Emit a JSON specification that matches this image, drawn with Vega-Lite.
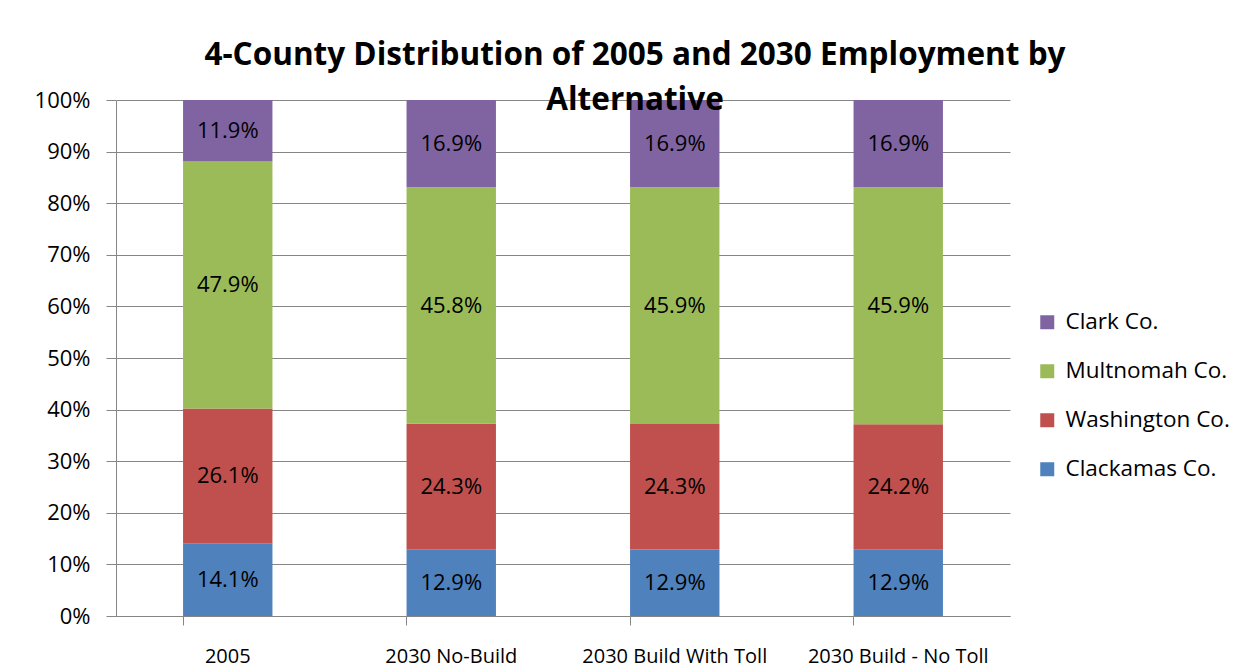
{
  "$schema": "https://vega.github.io/schema/vega-lite/v6.json",
  "autosize": "none",
  "width": 894,
  "height": 516,
  "padding": {"left": 116, "top": 100, "right": 238, "bottom": 51},
  "background": "white",
  "title": {
    "text": ["4-County Distribution of 2005 and 2030 Employment by", "Alternative"],
    "font": "Open Sans",
    "fontSize": 31.5,
    "fontWeight": "bold",
    "color": "black",
    "anchor": "middle",
    "dx": 72,
    "lineHeight": 45,
    "offset": -27
  },
  "data": {
    "values": [
      {"scenario": "2005", "county": "Clackamas Co.", "k": 1, "share": 0.141},
      {"scenario": "2005", "county": "Washington Co.", "k": 2, "share": 0.261},
      {"scenario": "2005", "county": "Multnomah Co.", "k": 3, "share": 0.479},
      {"scenario": "2005", "county": "Clark Co.", "k": 4, "share": 0.119},
      {"scenario": "2030 No-Build", "county": "Clackamas Co.", "k": 1, "share": 0.129},
      {"scenario": "2030 No-Build", "county": "Washington Co.", "k": 2, "share": 0.243},
      {"scenario": "2030 No-Build", "county": "Multnomah Co.", "k": 3, "share": 0.458},
      {"scenario": "2030 No-Build", "county": "Clark Co.", "k": 4, "share": 0.169},
      {"scenario": "2030 Build With Toll", "county": "Clackamas Co.", "k": 1, "share": 0.129},
      {"scenario": "2030 Build With Toll", "county": "Washington Co.", "k": 2, "share": 0.243},
      {"scenario": "2030 Build With Toll", "county": "Multnomah Co.", "k": 3, "share": 0.459},
      {"scenario": "2030 Build With Toll", "county": "Clark Co.", "k": 4, "share": 0.169},
      {"scenario": "2030 Build - No Toll", "county": "Clackamas Co.", "k": 1, "share": 0.129},
      {"scenario": "2030 Build - No Toll", "county": "Washington Co.", "k": 2, "share": 0.242},
      {"scenario": "2030 Build - No Toll", "county": "Multnomah Co.", "k": 3, "share": 0.459},
      {"scenario": "2030 Build - No Toll", "county": "Clark Co.", "k": 4, "share": 0.169}
    ]
  },
  "encoding": {
    "x": {
      "field": "scenario",
      "type": "nominal",
      "sort": null,
      "scale": {"paddingInner": 0.6, "paddingOuter": 0.3},
      "axis": {
        "title": null,
        "labelAngle": 0,
        "labelFont": "Open Sans",
        "labelFontSize": 20,
        "labelColor": "black",
        "labelPadding": 21,
        "labelLimit": 0,
        "labelOverlap": false,
        "bandPosition": 0,
        "tickColor": "#868686",
        "tickSize": 9,
        "domainColor": "#868686",
        "grid": false
      }
    },
    "y": {
      "field": "share",
      "type": "quantitative",
      "stack": "normalize",
      "scale": {"domain": [0, 1]},
      "axis": {
        "title": null,
        "values": [0, 0.1, 0.2, 0.3, 0.4, 0.5, 0.6, 0.7, 0.8, 0.9, 1],
        "format": ".0%",
        "labelFont": "Open Sans",
        "labelFontSize": 22,
        "labelColor": "black",
        "labelPadding": 16,
        "tickColor": "#868686",
        "tickSize": 10,
        "domainColor": "#868686",
        "grid": true,
        "gridColor": "#868686",
        "gridWidth": 1
      }
    },
    "order": {"field": "k", "type": "quantitative"}
  },
  "layer": [
    {
      "mark": {"type": "bar"},
      "encoding": {
        "color": {
          "field": "county",
          "type": "nominal",
          "scale": {
            "domain": ["Clark Co.", "Multnomah Co.", "Washington Co.", "Clackamas Co."],
            "range": ["#8064A2", "#9BBB59", "#C0504D", "#4F81BD"]
          },
          "legend": {
            "title": null,
            "orient": "none",
            "legendX": 920,
            "legendY": 211,
            "symbolType": "square",
            "symbolSize": 196,
            "symbolStrokeWidth": 0,
            "labelFont": "Open Sans",
            "labelFontSize": 22.5,
            "labelColor": "black",
            "labelOffset": 7,
            "labelLimit": 0,
            "rowPadding": 26
          }
        }
      }
    },
    {
      "mark": {"type": "text", "font": "Open Sans", "fontSize": 22, "color": "black"},
      "encoding": {
        "y": {"field": "share", "type": "quantitative", "stack": "normalize", "bandPosition": 0.5},
        "text": {"field": "share", "type": "quantitative", "format": ".1%"}
      }
    }
  ],
  "config": {"view": {"stroke": null}}
}
